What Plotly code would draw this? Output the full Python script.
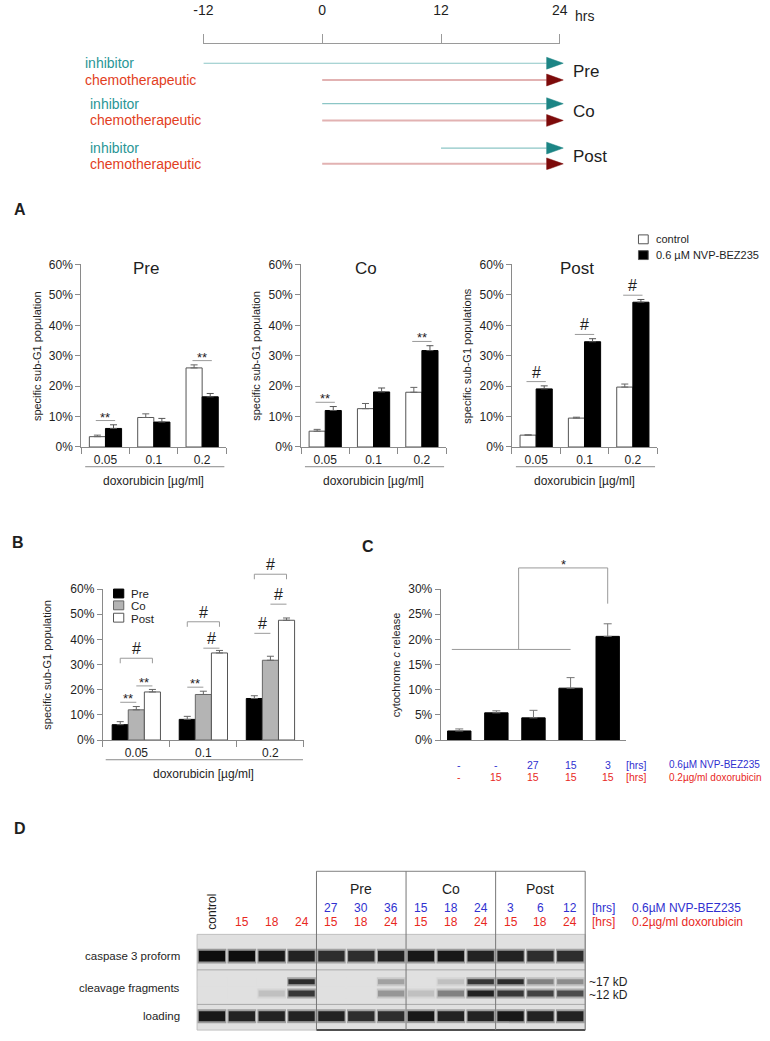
import plotly.graph_objects as go

W, H = 770, 1041
def px(x): return x / W
def py(y): return 1 - y / H

FONT = "Liberation Sans, Arial, Helvetica, sans-serif"
AX = "#8a8a8a"
TXT = "#1e1e1e"
SIG = "#9a9a9a"
BLUE = "#3030d0"
RED = "#e8281e"
TEAL = "#2a9696"
ORANGE = "#e2401e"

# ---------------- data ----------------
schedules = ["Pre", "Co", "Post"]
inhibitor_start = [-12, 0, 12]
chemo_start = [0, 0, 0]
treatment_end = [24, 24, 24]
time_ticks = [-12, 0, 12, 24]

doxo_conc = ["0.05", "0.1", "0.2"]
ctrl_pre = [3.4, 9.7, 26.0]
ctrl_pre_err = [0.5, 1.2, 1.0]
nvp_pre = [6.1, 8.2, 16.5]
nvp_pre_err = [1.2, 1.2, 1.1]
ctrl_co = [5.2, 12.6, 18.0]
ctrl_co_err = [0.6, 1.7, 1.6]
nvp_co = [12.0, 18.1, 31.7]
nvp_co_err = [1.3, 1.3, 1.6]
ctrl_post = [3.9, 9.5, 19.7]
ctrl_post_err = [0.1, 0.3, 1.0]
nvp_post = [19.1, 34.6, 47.6]
nvp_post_err = [1.0, 1.0, 0.9]
sig_pre = ["**", "", "**"]
sig_co = ["**", "", "**"]
sig_post = ["#", "#", "#"]

b_series = ["Pre", "Co", "Post"]
b_sig_cat = [0, 0, 0, 1, 1, 1, 2, 2, 2]
b_sig_from = [0, 1, 0, 0, 1, 0, 0, 1, 0]
b_sig_to = [1, 2, 2, 1, 2, 2, 1, 2, 2]
b_sig_text = ["**", "**", "#", "**", "#", "#", "#", "#", "#"]
b_sig_level = [15.0, 21.5, 32.5, 21.0, 36.5, 47.0, 42.4, 54.0, 65.9]

c_inhibitor_hrs = ["-", "-", "27", "15", "3"]
c_doxo_hrs = ["-", "15", "15", "15", "15"]
cyto_c = [1.8, 5.4, 4.4, 10.3, 20.6]
cyto_c_err = [0.4, 0.4, 1.5, 2.1, 2.5]
c_sig_group = [0, 1, 2, 3]
c_sig_target = 4
c_sig_levels = [18.0, 34.2, 27.1]
c_sig_text = "*"

d_groups = ["Pre", "Co", "Post"]
d_inhibitor_hrs = ["", "", "", "", "27", "30", "36", "15", "18", "24", "3", "6", "12"]
d_doxo_hrs = ["", "15", "18", "24", "15", "18", "24", "15", "18", "24", "15", "18", "24"]
d_rows = ["caspase 3 proform", "cleavage fragments", "loading"]
band_proform = [1.0, 1.0, 0.95, 0.9, 0.85, 0.85, 0.9, 0.95, 0.95, 0.9, 0.9, 0.85, 0.85]
band_17kd = [0, 0, 0, 0.85, 0, 0, 0.3, 0, 0.15, 0.8, 0.85, 0.45, 0.4]
band_12kd = [0, 0, 0.15, 0.8, 0, 0, 0.35, 0.15, 0.45, 0.9, 0.8, 0.75, 0.7]
band_loading = [0.95, 0.9, 0.9, 0.9, 0.9, 0.85, 0.85, 0.95, 0.9, 0.9, 0.95, 0.9, 0.9]

# ---------------- figure ----------------
fig = go.Figure()
annotations = []
shapes = []
layout = dict(width=W, height=H, autosize=False, margin=dict(l=0, r=0, t=0, b=0),
              paper_bgcolor="white", plot_bgcolor="rgba(0,0,0,0)",
              font=dict(family=FONT, size=12, color=TXT), showlegend=False,
              barmode="overlay")

def ann(text, x, y, size=12, color=TXT, xanchor="center", yanchor="middle",
        angle=0, xref="paper", yref="paper", yshift=0):
    annotations.append(dict(text=text, x=x, y=y, xref=xref, yref=yref, showarrow=False,
                            font=dict(family=FONT, size=size, color=color),
                            xanchor=xanchor, yanchor=yanchor, textangle=angle,
                            yshift=yshift))

def hline(x0, x1, y, color=AX, width=1):
    shapes.append(dict(type="line", xref="paper", yref="paper", x0=px(x0), x1=px(x1),
                       y0=py(y), y1=py(y), line=dict(color=color, width=width)))

def line_trace(xs, ys, xa, ya, color=SIG, width=1):
    fig.add_trace(go.Scatter(x=xs, y=ys, mode="lines", line=dict(color=color, width=width),
                             xaxis=xa, yaxis=ya, hoverinfo="skip"))

# ---- timeline ----
TL_TOP, TL_BOT = 37, 165
TL_X0, TL_X1 = 198, 563
pph = (TL_X1 - TL_X0) / (time_ticks[-1] - time_ticks[0])
layout["xaxis"] = dict(domain=[px(TL_X0), px(TL_X1)], range=[time_ticks[0], time_ticks[-1]],
                       side="top", anchor="y", showline=True, linecolor="#9a9a9a",
                       ticks="outside", ticklen=9, tickcolor="#9a9a9a",
                       tickvals=time_ticks, ticktext=[str(t) for t in time_ticks],
                       tickfont=dict(size=14), showgrid=False, zeroline=False,
                       ticklabelstandoff=13)
layout["yaxis"] = dict(domain=[py(TL_BOT), py(TL_TOP)], range=[TL_BOT - TL_TOP, 0],
                       showline=False, showticklabels=False, ticks="", showgrid=False,
                       zeroline=False, anchor="x")
fig.add_trace(go.Scatter(x=[time_ticks[0]], y=[0], mode="markers",
                         marker=dict(opacity=0), xaxis="x", yaxis="y", hoverinfo="skip"))
layout["xaxis10"] = dict(domain=[px(TL_X0), px(TL_X1 + 2 * pph)],
                         range=[time_ticks[0], time_ticks[-1] + 2], visible=False, anchor="y10")
layout["yaxis10"] = dict(domain=[py(TL_BOT), py(TL_TOP)], range=[TL_BOT - TL_TOP, 0],
                         visible=False, anchor="x10")
ann("hrs", px(576), py(9), size=14, xanchor="left")

inh_row = [20, 61, 106]
chem_row = [37, 78, 122]
lab_row = [28, 69, 115]
HEAD = 17 / pph
for i, s in enumerate(schedules):
    tip = treatment_end[i] + 3.5 / pph
    for start, row, lc, lw, hc in [(inhibitor_start[i], inh_row[i], "#8cc6c6", 1.2, "#1c8585"),
                                   (chemo_start[i], chem_row[i], "#e2b2b2", 2, "#7d0a0a")]:
        line_trace([start, tip - HEAD], [row, row], "x10", "y10", color=lc, width=lw)
        fig.add_trace(go.Scatter(x=[tip - HEAD, tip, tip - HEAD, tip - HEAD],
                                 y=[row - 6, row, row + 6, row - 6], mode="lines",
                                 fill="toself", fillcolor=hc, line=dict(color=hc, width=0.5),
                                 xaxis="x10", yaxis="y10", hoverinfo="skip"))
    lx = 75 if i == 0 else 80
    ann("inhibitor", px(lx), py(TL_TOP + inh_row[i]), size=14, color=TEAL, xanchor="left")
    ann("chemotherapeutic", px(lx), py(TL_TOP + chem_row[i]), size=14, color=ORANGE, xanchor="left")
    ann(s, px(574), py(TL_TOP + lab_row[i]), size=17, xanchor="left")

# ---- panel A ----
cat_idx = list(range(len(doxo_conc)))
A_X0 = [73, 298, 514]
A_W = 148.5
A_TOP, A_BOT = 261, 446
panels_A = [("Pre", ctrl_pre, ctrl_pre_err, nvp_pre, nvp_pre_err, sig_pre, "specific sub-G1 population"),
            ("Co", ctrl_co, ctrl_co_err, nvp_co, nvp_co_err, sig_co, "specific sub-G1 population"),
            ("Post", ctrl_post, ctrl_post_err, nvp_post, nvp_post_err, sig_post, "specific sub-G1 populations")]

def cat_xaxis(x0, x1, anchor, labels, ncat):
    return dict(domain=[px(x0), px(x1)], anchor=anchor, range=[-0.5, ncat - 0.5],
                tickvals=list(range(ncat)), ticktext=labels, ticks="",
                showline=True, linecolor=AX, showgrid=False, zeroline=False,
                tickfont=dict(size=12, color=TXT), ticklabelstandoff=2,
                minor=dict(tickvals=[i - 0.5 for i in range(ncat + 1)], ticks="outside",
                           ticklen=6, tickcolor=AX, showgrid=False))

def pct_yaxis(top, bot, anchor, vmax, step):
    vals = list(range(0, vmax + 1, step))
    return dict(domain=[py(bot), py(top)], anchor=anchor, range=[0, vmax],
                tickvals=vals, ticktext=[f"{v}%" for v in vals], ticks="outside",
                ticklen=5, tickcolor=AX, showline=True, linecolor=AX, showgrid=False,
                zeroline=False, tickfont=dict(size=12, color=TXT))

BW = 1 / 3
for k, (title, ctrl, ctrl_err, nvp, nvp_err, sig, ylab) in enumerate(panels_A):
    n = k + 2
    xa, ya = f"x{n}", f"y{n}"
    x0 = A_X0[k]
    layout[f"xaxis{n}"] = cat_xaxis(x0, x0 + A_W, ya, doxo_conc, len(doxo_conc))
    layout[f"yaxis{n}"] = pct_yaxis(A_TOP, A_BOT, xa, 60, 10)
    fig.add_trace(go.Bar(x=cat_idx, y=ctrl, width=BW, offset=-BW,
                         marker=dict(color="white", line=dict(color="#555", width=1)),
                         error_y=dict(type="data", array=ctrl_err, arrayminus=[0] * len(ctrl),
                                      symmetric=False, color="#666", thickness=1, width=3.5),
                         xaxis=xa, yaxis=ya, hoverinfo="skip"))
    fig.add_trace(go.Bar(x=cat_idx, y=nvp, width=BW, offset=0,
                         marker=dict(color="black", line=dict(color="black", width=1)),
                         error_y=dict(type="data", array=nvp_err, arrayminus=[0] * len(nvp),
                                      symmetric=False, color="#555", thickness=1, width=3.5),
                         xaxis=xa, yaxis=ya, hoverinfo="skip"))
    for c, lab in enumerate(sig):
        if not lab:
            continue
        lvl = max(ctrl[c] + ctrl_err[c], nvp[c] + nvp_err[c]) + 1.4
        line_trace([c - 0.2, c + 0.2], [lvl, lvl], xa, ya)
        if lab == "**":
            ann(lab, c, lvl, size=13, xref=xa, yref=ya, yanchor="bottom", yshift=-6)
        else:
            ann(lab, c, lvl, size=16, xref=xa, yref=ya, yanchor="bottom", yshift=-1)
    cx = x0 + A_W / 2
    ann(title, px(cx - 8), py(265), size=17)
    ann(ylab, px(x0 - 46), py((A_TOP + A_BOT) / 2), size=11, angle=-90)
    hline(x0 + 4, x0 + A_W - 2, 466)
    ann("doxorubicin [µg/ml]", px(cx), py(480), size=12)
ann("<b>A</b>", px(10), py(205), size=16)

for (yc, fill, txt) in [(235.5, "white", "control"), (251.5, "black", "0.6 µM NVP-BEZ235")]:
    shapes.append(dict(type="rect", xref="paper", yref="paper", x0=px(643.5), x1=px(653.5),
                       y0=py(yc + 4.5), y1=py(yc - 4.5), fillcolor=fill,
                       line=dict(color="#555", width=1)))
    ann(txt, px(659), py(yc), size=11, xanchor="left")

# ---- panel B ----
B_X0, B_X1 = 95, 301
BC_TOP, BC_BOT = 590, 743
layout["xaxis5"] = cat_xaxis(B_X0, B_X1, "y5", doxo_conc, len(doxo_conc))
layout["yaxis5"] = pct_yaxis(BC_TOP, BC_BOT, "x5", 60, 10)
B_EXT = 72
b_top_px = BC_BOT - B_EXT * (BC_BOT - BC_TOP) / 60
layout["xaxis8"] = dict(domain=[px(B_X0), px(B_X1)], range=[-0.5, 2.5], visible=False, anchor="y8")
layout["yaxis8"] = dict(domain=[py(BC_BOT), py(b_top_px)], range=[0, B_EXT], visible=False, anchor="x8")
bw = 0.24
b_vals = [nvp_pre, nvp_co, nvp_post]
b_errs = [nvp_pre_err, nvp_co_err, nvp_post_err]
b_fill = ["black", "#b4b4b4", "white"]
b_line = ["black", "#666", "#555"]
for j in range(3):
    fig.add_trace(go.Bar(x=cat_idx, y=b_vals[j], width=bw, offset=(j - 1.5) * bw,
                         marker=dict(color=b_fill[j], line=dict(color=b_line[j], width=1)),
                         error_y=dict(type="data", array=b_errs[j], arrayminus=[0] * 3,
                                      symmetric=False, color="#666", thickness=1, width=3.5),
                         xaxis="x5", yaxis="y5", hoverinfo="skip"))
for c, f, t, lab, lvl in zip(b_sig_cat, b_sig_from, b_sig_to, b_sig_text, b_sig_level):
    xf = c + (f - 1) * bw
    xt = c + (t - 1) * bw
    if f == 0 and t == 2:
        line_trace([xf, xf, xt, xt], [lvl - 2, lvl, lvl, lvl - 2], "x8", "y8")
    else:
        line_trace([xf, xt], [lvl, lvl], "x8", "y8")
    if lab == "**":
        ann(lab, (xf + xt) / 2, lvl, size=13, xref="x8", yref="y8", yanchor="bottom", yshift=-6)
    else:
        ann(lab, (xf + xt) / 2, lvl, size=16, xref="x8", yref="y8", yanchor="bottom", yshift=-1)
ann("specific sub-G1 population", px(37), py((BC_TOP + BC_BOT) / 2), size=11, angle=-90)
hline(B_X0 + 3, B_X1 - 1, 763)
ann("doxorubicin [µg/ml]", px((B_X0 + B_X1) / 2), py(777), size=12)
ann("<b>B</b>", px(8), py(543), size=16)
for j, (yc, name) in enumerate(zip([594.5, 606.5, 619], b_series)):
    shapes.append(dict(type="rect", xref="paper", yref="paper", x0=px(106), x1=px(116.5),
                       y0=py(yc + 4.5), y1=py(yc - 4.5), fillcolor=b_fill[j],
                       line=dict(color=b_line[j], width=1)))
    ann(name, px(122), py(yc + 1), size=11.5, xanchor="left")

# ---- panel C ----
C_X0, C_X1 = 441, 631
nC = len(cyto_c)
c_idx = list(range(nC))
layout["xaxis6"] = dict(domain=[px(C_X0), px(C_X1)], anchor="y6", range=[-0.5, nC - 0.5],
                        showticklabels=False, ticks="", showline=True, linecolor=AX,
                        showgrid=False, zeroline=False)
layout["yaxis6"] = pct_yaxis(BC_TOP, BC_BOT, "x6", 30, 5)
C_EXT = 36
c_top_px = BC_BOT - C_EXT * (BC_BOT - BC_TOP) / 30
layout["xaxis9"] = dict(domain=[px(C_X0), px(C_X1)], range=[-0.5, nC - 0.5], visible=False, anchor="y9")
layout["yaxis9"] = dict(domain=[py(BC_BOT), py(c_top_px)], range=[0, C_EXT], visible=False, anchor="x9")
cw = 0.63
fig.add_trace(go.Bar(x=c_idx, y=cyto_c, width=cw, offset=-cw / 2,
                     marker=dict(color="black", line=dict(color="black", width=1)),
                     error_y=dict(type="data", array=cyto_c_err, arrayminus=[0] * nC,
                                  symmetric=False, color="#777", thickness=1, width=4),
                     xaxis="x6", yaxis="y6", hoverinfo="skip"))
g0, g1 = c_sig_group[0] - 0.2, c_sig_group[-1]
gm = sum(c_sig_group) / len(c_sig_group) + 0.1
lo, hi, end = c_sig_levels
line_trace([g0, g1], [lo, lo], "x9", "y9", color="#999")
line_trace([gm, gm, c_sig_target, c_sig_target], [lo, hi, hi, end], "x9", "y9", color="#999")
ann(c_sig_text, (gm + c_sig_target) / 2, hi, size=13, xref="x9", yref="y9", yanchor="bottom", yshift=-6)
ann("cytochrome <i>c</i> release", px(395), py((BC_TOP + BC_BOT) / 2), size=11, angle=-90)
for i in c_idx:
    ann(c_inhibitor_hrs[i], i, py(768), size=10.5, color=BLUE, xref="x6")
    ann(c_doxo_hrs[i], i, py(781), size=10.5, color=RED, xref="x6")
ann("[hrs]", px(642), py(768), size=10.5, color=BLUE)
ann("[hrs]", px(642), py(781), size=10.5, color=RED)
ann("0.6µM NVP-BEZ235", px(673), py(768), size=10, color=BLUE, xanchor="left")
ann("0.2µg/ml doxorubicin", px(673), py(781), size=10, color=RED, xanchor="left")
ann("<b>C</b>", px(367), py(547), size=16)

# ---- panel D (western blot) ----
nL = len(d_doxo_hrs)
lanes = list(range(nL))
D_TOP, D_BOT = 875, 1038
layout["xaxis7"] = dict(domain=[px(190), px(590.5)], range=[-0.55, nL - 0.45],
                        visible=False, anchor="y7")
layout["yaxis7"] = dict(domain=[py(D_BOT), py(D_TOP)], range=[D_BOT - D_TOP - 1, -1],
                        visible=False, anchor="x7")
blot_top, sep1, sep2, blot_bot = 64, 100, 135, 161
shapes.append(dict(type="rect", xref="x7", yref="y7", x0=-0.5, x1=nL - 0.5, y0=blot_top, y1=blot_bot,
                   fillcolor="#e0e0e0", line=dict(color="#c0c0c0", width=1), layer="below"))
for yy in (sep1, sep2):
    shapes.append(dict(type="line", xref="x7", yref="y7", x0=-0.5, x1=nL - 0.5, y0=yy, y1=yy,
                       line=dict(color="#a8a8a8", width=1)))
group_bounds = [3.5, 6.5, 9.5, 12.5]
shapes.append(dict(type="line", xref="x7", yref="y7", x0=group_bounds[0], x1=group_bounds[-1],
                   y0=0, y1=0, line=dict(color="#777", width=1)))
shapes.append(dict(type="line", xref="x7", yref="y7", x0=group_bounds[0], x1=group_bounds[-1],
                   y0=blot_bot, y1=blot_bot, line=dict(color="#222", width=1.5)))
for gb in group_bounds:
    shapes.append(dict(type="line", xref="x7", yref="y7", x0=gb, x1=gb, y0=0, y1=blot_bot,
                       line=dict(color="#777", width=1)))
band_specs = [(band_proform, 86, 11), (band_17kd, 112, 5), (band_12kd, 124, 6), (band_loading, 147, 10)]
scale = [[0, "#e0e0e0"], [1, "#0d0d0d"]]
for vals, yc, th in band_specs:
    # soft halo for a blurred band look
    fig.add_trace(go.Bar(x=lanes, y=[th + 4] * nL, base=[yc - th / 2 - 2] * nL, width=0.96,
                         marker=dict(color=vals, colorscale=scale, cmin=0, cmax=1,
                                     line=dict(width=0), opacity=0.35),
                         xaxis="x7", yaxis="y7", hoverinfo="skip"))
    fig.add_trace(go.Bar(x=lanes, y=[th] * nL, base=[yc - th / 2] * nL, width=0.88,
                         marker=dict(color=vals, colorscale=scale, cmin=0, cmax=1,
                                     line=dict(width=0)),
                         xaxis="x7", yaxis="y7", hoverinfo="skip"))
for g, name in enumerate(d_groups):
    ann(name, 5 + 3 * g, py(894), size=14, xref="x7")
for i in lanes:
    if d_inhibitor_hrs[i]:
        ann(d_inhibitor_hrs[i], i, py(913), size=12, color=BLUE, xref="x7")
    if d_doxo_hrs[i]:
        ann(d_doxo_hrs[i], i, py(927), size=12, color=RED, xref="x7")
ann("control", 0, py(917), size=12, angle=-90, xref="x7")
ann("[hrs]", px(608), py(913), size=12, color=BLUE)
ann("[hrs]", px(608), py(927), size=12, color=RED)
ann("0.6µM NVP-BEZ235", px(635), py(913), size=12, color=BLUE, xanchor="left")
ann("0.2µg/ml doxorubicin", px(635), py(927), size=12, color=RED, xanchor="left")
for name, yc in zip(d_rows, [962, 994, 1023]):
    ann(name, px(176), py(yc), size=11.5, xanchor="right")
ann("~17 kD", px(591), py(988), size=12, xanchor="left")
ann("~12 kD", px(591), py(1001), size=12, xanchor="left")
ann("<b>D</b>", px(10), py(833), size=16)

layout["annotations"] = annotations
layout["shapes"] = shapes
fig.update_layout(**layout)
fig.write_html("out.html", config={"displayModeBar": False},
               post_script="document.body.style.margin='0px';")
